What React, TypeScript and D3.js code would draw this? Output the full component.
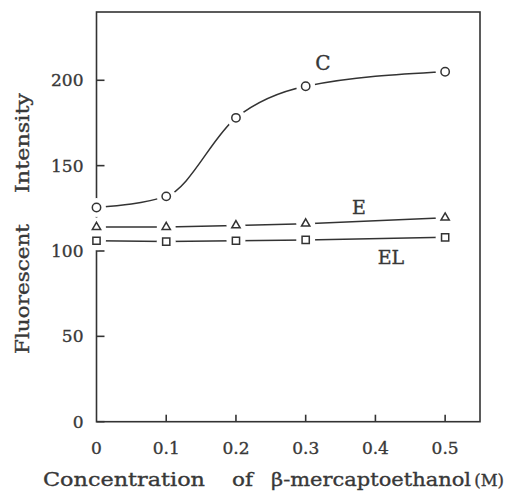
import React from "react";
import * as d3 from "d3";

const conc = [0, 0.1, 0.2, 0.3, 0.5];
const seriesC = [125.5, 132, 178, 196.5, 205];
const seriesE = [114, 114, 115, 116, 119.5];
const seriesEL = [106, 105.5, 106, 106.5, 108];
const xTicks = [0, 0.1, 0.2, 0.3, 0.4, 0.5];
const xTickLabels = ["0", "0.1", "0.2", "0.3", "0.4", "0.5"];
const yTicks = [0, 50, 100, 150, 200];

const W = 509, H = 496;
const L = 96.5, R = 480, T = 12, B = 421.7;
const ink = "#333";
const txt = "#383838";
const font = "'DejaVu Serif', serif";

export default function App() {
  const x = d3.scaleLinear().domain([0, 0.55]).range([L, R]);
  const y = d3.scaleLinear().domain([0, 240]).range([B, T]);

  const lineC = d3.line<number>().x((_, i) => x(conc[i])).y((d) => y(d)).curve(d3.curveMonotoneX);
  const lineStraight = d3.line<number>().x((_, i) => x(conc[i])).y((d) => y(d));

  const series = [
    { vals: seriesC, path: lineC(seriesC), sym: d3.symbolCircle, size: 55 },
    { vals: seriesE, path: lineStraight(seriesE), sym: d3.symbolTriangle, size: 30 },
    { vals: seriesEL, path: lineStraight(seriesEL), sym: d3.symbolSquare, size: 52 },
  ];

  const tp = { fontFamily: font, fill: txt, stroke: txt, strokeWidth: 0.35 };

  return (
    <svg width={W} height={H} style={{ position: "absolute", left: 0, top: 0, background: "#fff" }}>
      <rect x={L} y={T} width={R - L} height={B - T} fill="none" stroke={ink} strokeWidth={1.6} />
      {yTicks.map((t) => (
        <g key={"y" + t}>
          <line x1={L} x2={L + 8} y1={y(t)} y2={y(t)} stroke={ink} strokeWidth={1.6} />
          <text x={L - 13} y={y(t)} dy="0.36em" textAnchor="end" fontSize={17} {...tp}>
            {t}
          </text>
        </g>
      ))}
      {xTicks.map((t, i) => (
        <g key={"x" + t}>
          {i > 0 && <line x1={x(t)} x2={x(t)} y1={B} y2={B - 7} stroke={ink} strokeWidth={1.6} />}
          <text x={x(t)} y={448} dy="0.36em" textAnchor="middle" fontSize={17} {...tp}>
            {xTickLabels[i]}
          </text>
        </g>
      ))}
      {series.map((s, k) => (
        <path key={"p" + k} d={s.path || ""} fill="none" stroke={ink} strokeWidth={1.5} />
      ))}
      {series.map((s, k) =>
        s.vals.map((v, i) => (
          <circle key={"h" + k + "-" + i} cx={x(conc[i])} cy={y(v)} r={9.5} fill="#ffffff" stroke="none" />
        ))
      )}
      {series.map((s, k) =>
        s.vals.map((v, i) => (
          <path
            key={"m" + k + "-" + i}
            d={d3.symbol().type(s.sym).size(s.size)() || ""}
            transform={`translate(${x(conc[i])},${y(v)})`}
            fill="#fff"
            stroke={ink}
            strokeWidth={1.5}
          />
        ))
      )}
      <text x={323} y={63} dy="0.36em" textAnchor="middle" fontSize={20} {...tp}>C</text>
      <text x={359} y={207} dy="0.36em" textAnchor="middle" fontSize={19} {...tp}>E</text>
      <text x={391} y={257} dy="0.36em" textAnchor="middle" fontSize={19} {...tp}>EL</text>
      <g fontSize={19} {...tp}>
        <text x={43} y={486} textLength={162} lengthAdjust="spacingAndGlyphs">Concentration</text>
        <text x={232} y={486} textLength={21} lengthAdjust="spacingAndGlyphs">of</text>
        <text x={271} y={486} textLength={200} lengthAdjust="spacingAndGlyphs">β-mercaptoethanol</text>
        <text x={504} y={486} textAnchor="end" fontSize={16.5}>(M)</text>
      </g>
      <g fontSize={18.5} {...tp}>
        <text transform={`translate(29,354) rotate(-90)`} textLength={130} lengthAdjust="spacingAndGlyphs">
          Fluorescent
        </text>
        <text transform={`translate(29,193) rotate(-90)`} textLength={100} lengthAdjust="spacingAndGlyphs">
          Intensity
        </text>
      </g>
    </svg>
  );
}
